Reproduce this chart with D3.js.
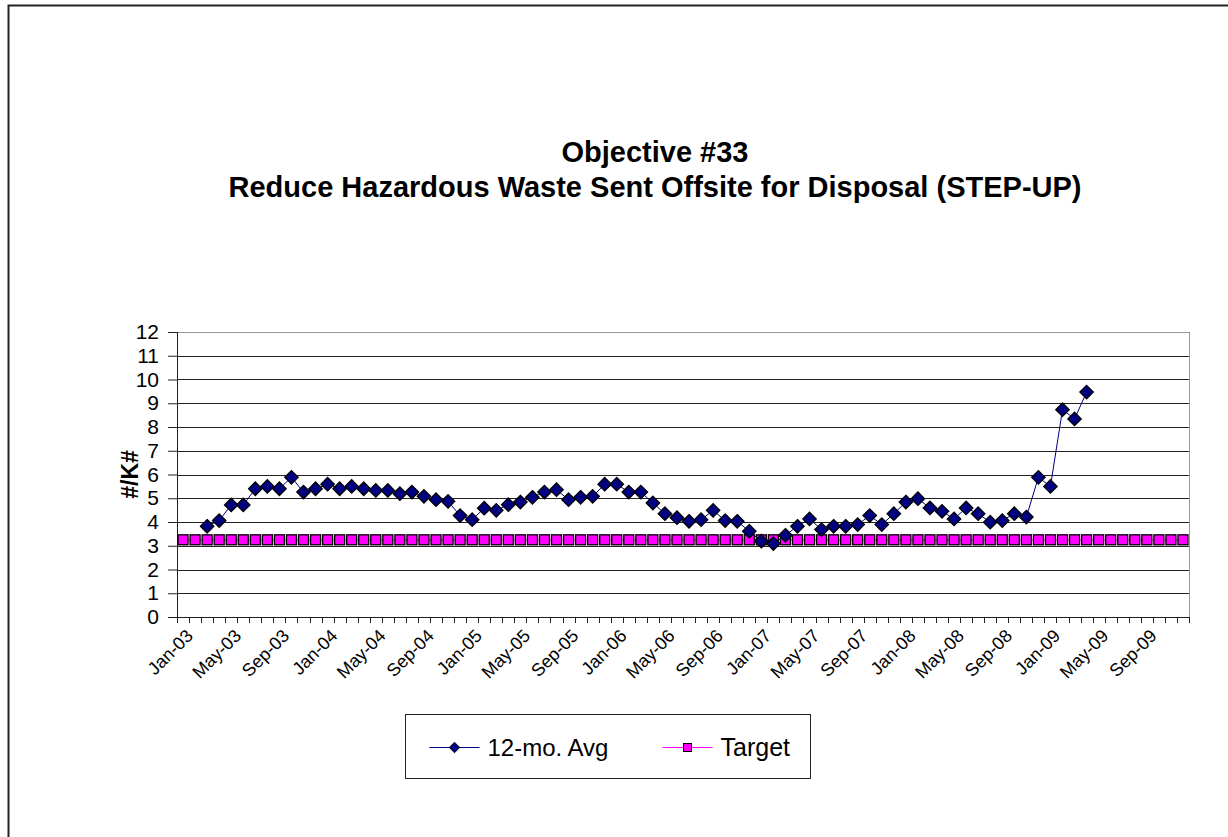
<!DOCTYPE html>
<html>
<head>
<meta charset="utf-8">
<script src="https://cdn.jsdelivr.net/npm/d3@7"></script>
<style>
  body { margin: 0; background: #fff; }
  svg { font-family: Arial, "Liberation Sans", sans-serif; }
</style>
</head>
<body>
<div id="chart"></div>
<script>
const svgWidth = 1228;
const svgHeight = 837;

// Jan-03 .. Dec-09, one category per month
const monthNames = ["Jan", "Feb", "Mar", "Apr", "May", "Jun", "Jul", "Aug", "Sep", "Oct", "Nov", "Dec"];
const years = ["03", "04", "05", "06", "07", "08", "09"];
const months = [];
years.forEach(y => monthNames.forEach(m => months.push(`${m}-${y}`)));

// 12-month average, starting Mar-03 (earlier months empty)
const avgValues = [
  null, null, 3.82, 4.06, 4.72, 4.72, 5.40, 5.50, 5.40, 5.88, 5.26, 5.40,
  5.59, 5.40, 5.50, 5.40, 5.33, 5.33, 5.19, 5.26, 5.08, 4.94, 4.87, 4.27,
  4.10, 4.58, 4.49, 4.73, 4.84, 5.04, 5.26, 5.36, 4.94, 5.04, 5.08, 5.59,
  5.59, 5.26, 5.26, 4.80, 4.35, 4.18, 4.03, 4.10, 4.49, 4.06, 4.03, 3.61,
  3.19, 3.09, 3.44, 3.82, 4.13, 3.68, 3.82, 3.82, 3.89, 4.27, 3.89, 4.35,
  4.84, 4.98, 4.59, 4.45, 4.13, 4.59, 4.35, 3.99, 4.06, 4.35, 4.21, 5.88,
  5.50, 8.73, 8.34, 9.47
];
const targetValue = 3.25;

const yTicks = d3.range(0, 13);
const xLabels = months.filter((d, i) => i % 4 === 0);

const margin = { top: 332, left: 177, right: 39, bottom: 220 };
const width = svgWidth - margin.left - margin.right;
const height = svgHeight - margin.top - margin.bottom;

const svg = d3.select("#chart")
  .append("svg")
  .attr("width", svgWidth)
  .attr("height", svgHeight);

// outer frame (top and left edges only)
svg.append("path")
  .attr("d", `M8.5,${svgHeight} V5.5 H${svgWidth}`)
  .attr("fill", "none")
  .attr("stroke", "#222")
  .attr("stroke-width", 2);

// titles
svg.append("text")
  .attr("x", 655).attr("y", 162)
  .attr("text-anchor", "middle")
  .attr("font-size", "29px").attr("font-weight", "bold")
  .text("Objective #33");
svg.append("text")
  .attr("x", 655).attr("y", 197)
  .attr("text-anchor", "middle")
  .attr("font-size", "29px").attr("font-weight", "bold")
  .text("Reduce Hazardous Waste Sent Offsite for Disposal (STEP-UP)");

const chartGroup = svg.append("g")
  .attr("transform", `translate(${margin.left}, ${margin.top})`);

const xScale = d3.scaleBand()
  .domain(months)
  .range([0, width]);

const yScale = d3.scaleLinear()
  .domain([0, 12])
  .range([height, 0]);

// gridlines
chartGroup.append("g")
  .selectAll("line")
  .data(yTicks.filter(d => d > 0))
  .join("line")
  .attr("x1", 0).attr("x2", width)
  .attr("y1", d => Math.round(yScale(d)) + 0.5)
  .attr("y2", d => Math.round(yScale(d)) + 0.5)
  .attr("stroke", d => d === 12 ? "#999" : "#222");

// right border of plot area
chartGroup.append("line")
  .attr("x1", width + 0.5).attr("x2", width + 0.5)
  .attr("y1", 0).attr("y2", height)
  .attr("stroke", "#999");

// y axis
const leftAxis = d3.axisLeft(yScale)
  .tickValues(yTicks)
  .tickSize(9)
  .tickPadding(9)
  .tickFormat(d3.format("d"));
const yAxis = chartGroup.append("g").call(leftAxis);
yAxis.select(".domain").attr("stroke", "#222").attr("d", `M0.5,${height}V0`);
yAxis.selectAll(".tick line").attr("stroke", "#222");
yAxis.selectAll("text").attr("font-size", "21px").attr("font-family", "Arial, 'Liberation Sans', sans-serif").attr("fill", "#000");

// x axis: ticks at category boundaries
const boundaries = d3.range(0, months.length + 1).map(i => i * xScale.step());
chartGroup.append("line")
  .attr("x1", 0).attr("x2", width)
  .attr("y1", height + 0.5).attr("y2", height + 0.5)
  .attr("stroke", "#222");
chartGroup.append("g")
  .selectAll("line")
  .data(boundaries)
  .join("line")
  .attr("x1", d => Math.round(d) + 0.5).attr("x2", d => Math.round(d) + 0.5)
  .attr("y1", height).attr("y2", height + 6)
  .attr("stroke", "#222");

chartGroup.append("g")
  .selectAll("text")
  .data(xLabels)
  .join("text")
  .attr("transform", d => `translate(${xScale(d) + xScale.bandwidth() / 2 + 11}, ${height + 20}) rotate(-45)`)
  .attr("text-anchor", "end")
  .attr("font-size", "18px")
  .text(d => d);

// y axis title
svg.append("text")
  .attr("transform", `translate(138, ${margin.top + height / 2}) rotate(-90)`)
  .attr("text-anchor", "middle")
  .attr("font-size", "23px").attr("font-weight", "bold")
  .text("#/K#");

const cx = d => xScale(d) + xScale.bandwidth() / 2;

// target series
const targetData = months.map(m => ({ month: m, value: targetValue }));
chartGroup.append("path")
  .datum(targetData)
  .attr("fill", "none")
  .attr("stroke", "#ff00ff")
  .attr("d", d3.line().x(d => cx(d.month)).y(d => yScale(d.value)));
chartGroup.append("g")
  .selectAll("rect")
  .data(targetData)
  .join("rect")
  .attr("x", d => cx(d.month) - 5)
  .attr("y", d => yScale(d.value) - 5)
  .attr("width", 10).attr("height", 10)
  .attr("fill", "#ff00ff")
  .attr("stroke", "#000").attr("stroke-width", 1.3);

// 12-mo average series
const avgData = months.map((m, i) => ({ month: m, value: avgValues[i] }))
  .filter(d => d.value != null);
chartGroup.append("path")
  .datum(avgData)
  .attr("fill", "none")
  .attr("stroke", "#000080")
  .attr("d", d3.line().x(d => cx(d.month)).y(d => yScale(d.value)));
const diamond = d3.symbol().type(d3.symbolDiamond2).size(115);
chartGroup.append("g")
  .selectAll("path")
  .data(avgData)
  .join("path")
  .attr("transform", d => `translate(${cx(d.month)}, ${yScale(d.value)})`)
  .attr("d", diamond)
  .attr("fill", "#000080")
  .attr("stroke", "#000").attr("stroke-width", 1.3);

// legend
const legend = svg.append("g").attr("transform", "translate(405.5, 714.5)");
legend.append("rect")
  .attr("width", 405).attr("height", 64)
  .attr("fill", "#fff").attr("stroke", "#222");
const ly = 33;
legend.append("line")
  .attr("x1", 24).attr("x2", 74).attr("y1", ly).attr("y2", ly)
  .attr("stroke", "#000080");
legend.append("path")
  .attr("transform", `translate(49, ${ly})`)
  .attr("d", d3.symbol().type(d3.symbolDiamond2).size(70))
  .attr("fill", "#000080").attr("stroke", "#000");
legend.append("text")
  .attr("x", 82).attr("y", ly + 8)
  .attr("font-size", "24px")
  .text("12-mo. Avg");
legend.append("line")
  .attr("x1", 257).attr("x2", 307).attr("y1", ly).attr("y2", ly)
  .attr("stroke", "#ff00ff");
legend.append("rect")
  .attr("x", 278).attr("y", ly - 4).attr("width", 8).attr("height", 8)
  .attr("fill", "#ff00ff").attr("stroke", "#000");
legend.append("text")
  .attr("x", 315).attr("y", ly + 8)
  .attr("font-size", "25px")
  .text("Target");
</script>
</body>
</html>
